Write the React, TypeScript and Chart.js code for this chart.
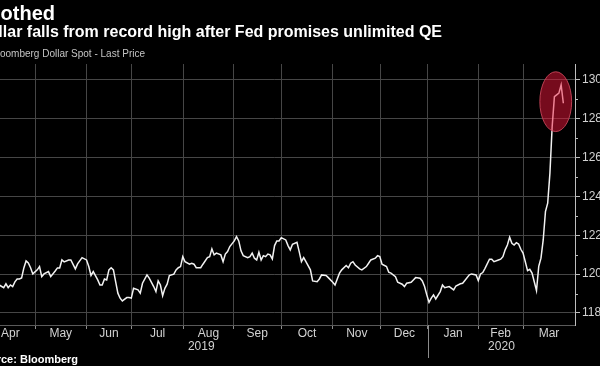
import React, { useEffect, useRef } from 'react';
import { Chart, registerables } from 'chart.js';

Chart.register(...registerables);

// ---- Data (trading-day index from 25 Mar 2019, Bloomberg Dollar Spot index) ----
const tradingDay = [
  11, 13, 14, 15, 16, 17, 18, 19, 20, 21, 22, 23, 24, 25, 26, 28, 29, 30, 31, 33,
  34, 36, 37, 38, 39, 40, 42, 43, 45, 46, 48, 50, 51, 52, 53, 55, 56, 57, 58, 59,
  60, 61, 62, 63, 64, 65, 66, 68, 69, 70, 71, 73, 74, 75, 77, 78, 79, 80, 81, 82,
  83, 84, 85, 86, 87, 89, 90, 91, 92, 93, 94, 96, 97, 98, 99, 101, 102, 104, 105, 106,
  107, 108, 110, 111, 112, 113, 114, 116, 117, 118, 119, 120, 122, 123, 124, 125, 126, 127, 128, 129,
  130, 131, 132, 133, 134, 135, 136, 137, 139, 140, 141, 142, 144, 145, 146, 147, 148, 150, 151, 153,
  154, 155, 157, 158, 160, 161, 162, 163, 164, 166, 167, 168, 169, 170, 172, 173, 175, 176, 177, 179,
  180, 181, 182, 184, 185, 186, 188, 189, 191, 192, 193, 195, 196, 197, 199, 200, 201, 202, 203, 204,
  205, 206, 208, 209, 210, 212, 214, 215, 217, 218, 219, 221, 222, 224, 225, 226, 227, 228, 230, 231,
  232, 234, 235, 236, 237, 238, 239, 240, 241, 242, 243, 244, 245, 246, 247, 248, 249, 250, 251, 252,
  253, 254, 255, 256, 257, 258, 259, 260, 261, 262, 263,
];

const dollarSpot = [
  1194.4, 1193.0, 1195.0, 1193.0, 1194.4, 1193.6, 1196.0, 1197.5, 1197.5, 1198.0, 1203.2, 1206.8, 1205.8, 1203.3, 1200.1, 1202.2, 1203.9, 1198.7, 1200.1, 1201.3,
  1198.7, 1201.6, 1203.2, 1203.2, 1207.3, 1206.3, 1207.3, 1207.3, 1202.7, 1205.3, 1208.5, 1207.3, 1203.9, 1199.3, 1201.3, 1197.0, 1194.4, 1194.4, 1197.5, 1197.0,
  1202.2, 1203.3, 1202.2, 1196.1, 1190.2, 1187.6, 1186.2, 1187.9, 1187.9, 1187.6, 1192.7, 1191.9, 1190.2, 1195.3, 1199.6, 1197.9, 1195.8, 1193.6, 1191.0, 1196.5,
  1194.4, 1188.9, 1192.7, 1194.8, 1199.3, 1200.0, 1202.2, 1203.3, 1203.9, 1209.0, 1206.4, 1205.1, 1205.6, 1205.1, 1203.3, 1203.3, 1205.1, 1208.5, 1209.0, 1213.0,
  1209.9, 1210.8, 1209.9, 1206.4, 1210.3, 1211.6, 1214.2, 1217.1, 1219.3, 1217.1, 1212.0, 1209.5, 1208.5, 1209.0, 1210.8, 1208.2, 1207.3, 1211.3, 1207.3, 1209.5,
  1209.0, 1210.3, 1209.9, 1207.8, 1214.7, 1217.1, 1217.1, 1218.8, 1217.6, 1214.7, 1212.5, 1215.4, 1216.4, 1211.6, 1206.4, 1208.5, 1206.4, 1202.2, 1196.5, 1196.1,
  1197.5, 1199.6, 1199.3, 1198.2, 1195.8, 1194.4, 1197.5, 1200.5, 1202.2, 1204.4, 1203.3, 1205.6, 1206.4, 1204.7, 1202.7, 1202.2, 1203.9, 1205.6, 1207.3, 1208.2,
  1209.5, 1209.0, 1205.1, 1203.9, 1201.0, 1200.5, 1198.7, 1195.8, 1194.8, 1193.6, 1195.3, 1195.8, 1197.0, 1198.2, 1197.9, 1196.5, 1193.6, 1189.3, 1185.5, 1187.6,
  1189.3, 1187.2, 1191.0, 1194.4, 1193.0, 1193.6, 1191.9, 1193.9, 1195.0, 1195.3, 1196.7, 1199.6, 1200.1, 1199.6, 1196.7, 1200.1, 1200.8, 1203.0, 1207.7, 1207.7,
  1206.4, 1207.3, 1207.7, 1209.0, 1212.5, 1215.0, 1219.0, 1215.9, 1215.0, 1216.2, 1215.5, 1212.8, 1210.8, 1206.4, 1201.8, 1202.5, 1200.5, 1196.1, 1191.5, 1204.0,
  1208.2, 1217.6, 1232.2, 1236.5, 1252.0, 1276.0, 1291.4, 1292.3, 1293.2, 1297.4, 1288.0,
];

const monthLabels = ['Apr', 'May', 'Jun', 'Jul', 'Aug', 'Sep', 'Oct', 'Nov', 'Dec', 'Jan', 'Feb', 'Mar'];
const monthStartDay = [5, 27, 50, 70, 93.5, 115.5, 137, 160, 181.5, 202.5, 225, 245];
const yearLabels = ['2019', '2020'];
const yearStartDay = [0, 202.5];
const axisStartDay = 0;
const axisEndDay = 268.2;

const yTickValues = [1180, 1200, 1220, 1240, 1260, 1280, 1300];
const yMinorTickValues = [1190, 1210, 1230, 1250, 1270, 1290];
const yMin = 1173.8;
const yMax = 1308.2;

// highlighted record-high region (data units)
const highlightDay = 259.6;
const highlightValue = 1288.8;
const highlightHalfDays = 7.1;
const highlightHalfValue = 15.4;

const titleText = 'Soothed';
const subtitleText = 'Dollar falls from record high after Fed promises unlimited QE';
const seriesLabel = 'Bloomberg Dollar Spot - Last Price';
const sourceText = 'Source: Bloomberg';

// ---- Layout ----
const OFFSET = 60; // canvas is shifted left; page x = canvas x - OFFSET
const CANVAS_W = 680;
const CANVAS_H = 366;
const FONT = '"Liberation Sans", Arial, sans-serif';

const highlightPlugin = {
  id: 'highlight',
  afterDatasetsDraw(chart: any) {
    const { ctx, scales } = chart;
    const xs = scales.x;
    const ys = scales.y;
    const cx = xs.getPixelForValue(highlightDay);
    const cy = ys.getPixelForValue(highlightValue);
    const rx = Math.abs(xs.getPixelForValue(highlightDay + highlightHalfDays) - cx);
    const ry = Math.abs(ys.getPixelForValue(highlightValue + highlightHalfValue) - cy);
    ctx.save();
    ctx.beginPath();
    ctx.ellipse(cx, cy, rx, ry, 0, 0, Math.PI * 2);
    ctx.fillStyle = 'rgba(235, 22, 58, 0.5)';
    ctx.fill();
    ctx.lineWidth = 1;
    ctx.strokeStyle = 'rgba(200, 70, 90, 0.9)';
    ctx.stroke();
    ctx.restore();
  },
};

const decorPlugin = {
  id: 'decor',
  afterDraw(chart: any) {
    const { ctx, scales, chartArea } = chart;
    const xs = scales.x;
    const ys = scales.y;
    ctx.save();

    // minor y ticks
    ctx.strokeStyle = '#bdbdbd';
    ctx.lineWidth = 1;
    for (const v of yMinorTickValues) {
      const y = Math.round(ys.getPixelForValue(v)) + 0.5;
      ctx.beginPath();
      ctx.moveTo(chartArea.right, y);
      ctx.lineTo(chartArea.right + 3, y);
      ctx.stroke();
    }

    // year separator
    ctx.strokeStyle = '#8c8c8c';
    for (let k = 1; k < yearStartDay.length; k++) {
      const x = Math.round(xs.getPixelForValue(yearStartDay[k])) + 0.5;
      ctx.beginPath();
      ctx.moveTo(x, chartArea.bottom);
      ctx.lineTo(x, 358);
      ctx.stroke();
    }

    // month labels
    ctx.fillStyle = '#d2d2d2';
    ctx.font = `12px ${FONT}`;
    ctx.textAlign = 'center';
    ctx.textBaseline = 'alphabetic';
    monthLabels.forEach((m, k) => {
      const a = monthStartDay[k];
      const b = k + 1 < monthStartDay.length ? monthStartDay[k + 1] : axisEndDay;
      ctx.fillText(m, xs.getPixelForValue((a + b) / 2), 337);
    });

    // year labels
    yearLabels.forEach((yl, k) => {
      const a = yearStartDay[k];
      const b = k + 1 < yearStartDay.length ? yearStartDay[k + 1] : axisEndDay;
      ctx.fillText(yl, xs.getPixelForValue((a + b) / 2), 350);
    });

    // header texts
    ctx.textAlign = 'right';
    ctx.fillStyle = '#ffffff';
    ctx.font = `bold 20px ${FONT}`;
    ctx.fillText(titleText, OFFSET + 55, 19.5);
    ctx.font = `bold 16px ${FONT}`;
    ctx.fillText(subtitleText, OFFSET + 442, 37);
    ctx.font = `10px ${FONT}`;
    ctx.fillStyle = '#c4c4c4';
    ctx.fillText(seriesLabel, OFFSET + 145, 56.5);
    ctx.font = `bold 11px ${FONT}`;
    ctx.fillStyle = '#ffffff';
    ctx.fillText(sourceText, OFFSET + 78, 363);

    ctx.restore();
  },
};

export default function App() {
  const ref = useRef<HTMLCanvasElement>(null);

  useEffect(() => {
    document.body.style.margin = '0';
    document.body.style.background = '#000';
    const canvas = ref.current;
    if (!canvas) return;
    const chart = new Chart(canvas, {
      type: 'line',
      data: {
        datasets: [
          {
            label: seriesLabel,
            data: tradingDay.map((d, i) => ({ x: d, y: dollarSpot[i] })),
            borderColor: '#f2f2f2',
            borderWidth: 1.5,
            pointRadius: 0,
            tension: 0,
            fill: false,
          },
        ],
      },
      options: {
        responsive: false,
        animation: false,
        devicePixelRatio: 1,
        layout: { padding: { left: OFFSET - 25.4, top: 64, right: 0, bottom: 0 } },
        plugins: { legend: { display: false }, tooltip: { enabled: false }, title: { display: false } },
        scales: {
          x: {
            type: 'linear',
            min: axisStartDay,
            max: axisEndDay,
            afterBuildTicks: (s: any) => {
              s.ticks = monthStartDay.map((v) => ({ value: v }));
            },
            afterFit: (s: any) => {
              s.height = 41;
            },
            grid: { color: '#464646', lineWidth: 1, drawTicks: true, tickLength: 4, tickColor: '#8c8c8c' },
            border: { display: true, color: '#5a5a5a' },
            ticks: { display: false, autoSkip: false },
          },
          y: {
            type: 'linear',
            position: 'right',
            min: yMin,
            max: yMax,
            afterBuildTicks: (s: any) => {
              s.ticks = yTickValues.map((v) => ({ value: v }));
            },
            afterFit: (s: any) => {
              s.width = CANVAS_W - OFFSET - 575;
            },
            grid: { color: '#464646', lineWidth: 1, tickLength: 5, tickColor: '#bdbdbd' },
            border: { display: true, color: '#bdbdbd' },
            ticks: {
              color: '#d2d2d2',
              font: { family: 'Liberation Sans', size: 12 },
              padding: 2,
              autoSkip: false,
              callback: (v: any) => String(v),
            },
          },
        },
      },
      plugins: [highlightPlugin, decorPlugin],
    } as any);
    return () => chart.destroy();
  }, []);

  return (
    <div
      style={{
        position: 'fixed',
        left: 0,
        top: 0,
        width: 600,
        height: 366,
        overflow: 'hidden',
        background: '#000',
      }}
    >
      <canvas
        ref={ref}
        width={CANVAS_W}
        height={CANVAS_H}
        style={{ position: 'absolute', left: -OFFSET, top: 0, width: CANVAS_W, height: CANVAS_H }}
      />
    </div>
  );
}
